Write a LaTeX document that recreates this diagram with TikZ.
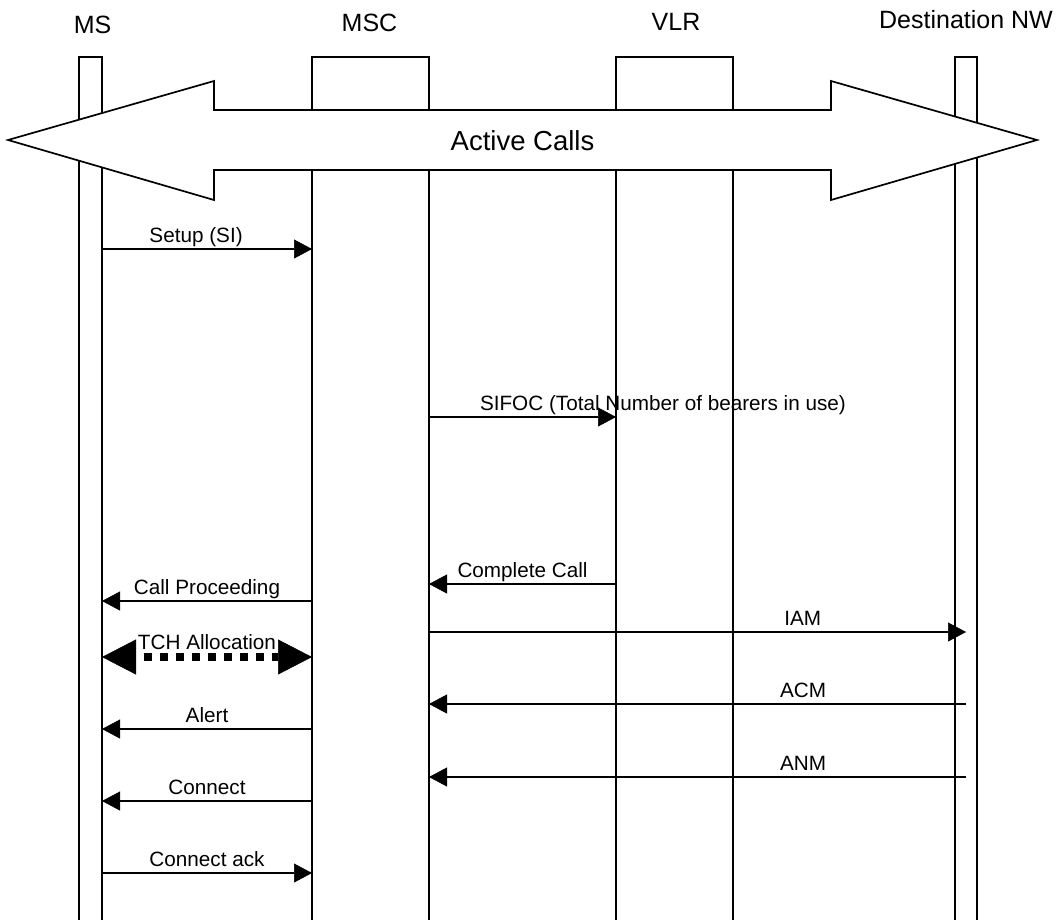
\documentclass[tikz,border=0pt]{standalone}
\usepackage{fontspec}
\setmainfont{Liberation Sans}
\usetikzlibrary{arrows.meta}
\begin{document}
\begin{tikzpicture}[x=1pt,y=-1pt,
  lifeline/.style={draw, line width=1.7pt, inner sep=0pt, outer sep=0pt, minimum height=950pt, anchor=north},
  hdr/.style={font=\fontsize{25}{30}\selectfont, anchor=base, inner sep=0pt},
  lbl/.style={font=\fontsize{20.7}{25}\selectfont, anchor=base, inner sep=0pt, yshift=7pt},
  msg/.style={line width=1.7pt, -{Triangle[length=18pt,width=19pt,line width=0.5pt]}},
  tch/.style={line width=8pt, dash pattern=on 8pt off 8pt, dash phase=8pt,
    {Triangle[length=34pt,width=35pt,line width=0.5pt]}-{Triangle[length=34pt,width=35pt,line width=0.5pt]}},
  bigarrow/.style={draw, fill=white, line width=1.7pt, line join=miter},
  bigtext/.style={font=\fontsize{27.5}{33}\selectfont, anchor=base, inner sep=0pt}
]
\path[use as bounding box, fill=white] (0,0) rectangle (1059,919);

% lifelines
\node[lifeline, minimum width=23pt] (ms) at (90.5,57) {};
\node[lifeline, minimum width=117pt] (msc) at (370.5,57) {};
\node[lifeline, minimum width=117pt] (vlr) at (674.5,57) {};
\node[lifeline, minimum width=22pt] (dest) at (966,57) {};

% headers
\node[hdr] (hms) at (92.5,33) {MS};
\node[hdr] (hmsc) at (369.5,31) {MSC};
\node[hdr] (hvlr) at (676,30) {VLR};
\node[hdr] (hdest) at (966,28) {Destination NW};

% active calls double arrow
\draw[bigarrow] (8,140) -- (214,81) -- (214,110) -- (831,110) -- (831,81) -- (1037,140)
  -- (831,200) -- (831,170) -- (214,170) -- (214,200) -- cycle;
\node[bigtext] (active) at (522.5,150) {Active Calls};

% messages
\draw[msg] (ms.east |- 0,249) -- (msc.west |- 0,249) node[lbl,pos=0.448] (l1) {Setup (SI)};
\draw[msg] (msc.east |- 0,417) -- (vlr.west |- 0,417) node[lbl,pos=1.251] (l2) {SIFOC (Total Number of bearers in use)};
\draw[msg] (vlr.west |- 0,584) -- (msc.east |- 0,584) node[lbl,pos=0.5] (l3) {Complete Call};
\draw[msg] (msc.west |- 0,601) -- (ms.east |- 0,601) node[lbl,pos=0.5] (l4) {Call Proceeding};
\draw[msg] (msc.east |- 0,632) -- (dest.center |- 0,632) node[lbl,pos=0.696] (l5) {IAM};
\draw[tch] (ms.east |- 0,657) -- (msc.west |- 0,657) node[lbl,pos=0.5,yshift=1pt] (l6) {TCH Allocation};
\draw[msg] (dest.center |- 0,704) -- (msc.east |- 0,704) node[lbl,pos=0.3035] (l7) {ACM};
\draw[msg] (msc.west |- 0,729) -- (ms.east |- 0,729) node[lbl,pos=0.5] (l8) {Alert};
\draw[msg] (dest.center |- 0,777) -- (msc.east |- 0,777) node[lbl,pos=0.3035] (l9) {ANM};
\draw[msg] (msc.west |- 0,801) -- (ms.east |- 0,801) node[lbl,pos=0.5] (l10) {Connect};
\draw[msg] (ms.east |- 0,873) -- (msc.west |- 0,873) node[lbl,pos=0.5] (l11) {Connect ack};
\end{tikzpicture}
\end{document}
